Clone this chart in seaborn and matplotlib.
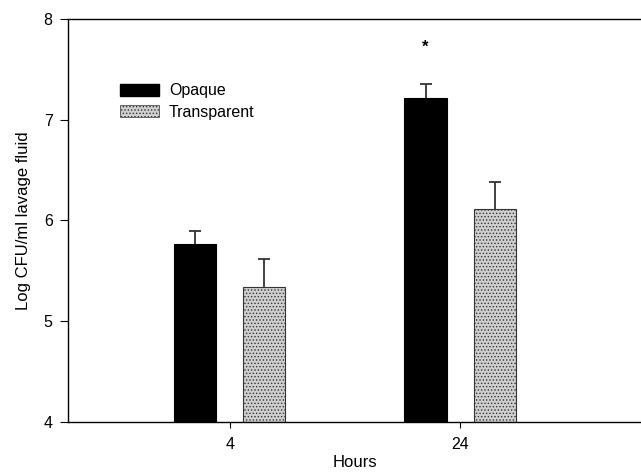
import matplotlib
matplotlib.use("Agg")
import matplotlib.pyplot as plt
import matplotlib.patches as mpatches
import seaborn as sns
import pandas as pd

# Bacterial counts in lavage fluid by colony phenotype
hours = ["4", "24"]
phenotypes = ["Opaque", "Transparent"]
opaque_mean = [5.77, 7.21]
opaque_err = [0.13, 0.14]
transparent_mean = [5.34, 6.11]
transparent_err = [0.28, 0.27]
y_ticks = [4, 5, 6, 7, 8]

df = pd.DataFrame({
    "Hours": hours + hours,
    "Phenotype": [phenotypes[0]] * 2 + [phenotypes[1]] * 2,
    "value": opaque_mean + transparent_mean,
})
errs = {phenotypes[0]: opaque_err, phenotypes[1]: transparent_err}

sns.set_style("ticks")
plt.rcParams["font.family"] = ["Liberation Sans", "DejaVu Sans"]
plt.rcParams["hatch.linewidth"] = 0.6
for key in ["text.color", "axes.labelcolor", "xtick.color", "ytick.color",
            "xtick.labelcolor", "ytick.labelcolor"]:
    plt.rcParams[key] = "black"

fig = plt.figure(figsize=(6.41, 4.72), dpi=100)
ax = fig.add_axes([0.106, 0.106, 0.894, 0.854])

stipple_face = "#cfcfcf"
sns.barplot(data=df, x="Hours", y="value", hue="Phenotype", order=hours,
            hue_order=phenotypes, palette=["black", stipple_face],
            width=0.6, gap=0.39, errorbar=None, legend=False,
            edgecolor="black", linewidth=0.8, ax=ax)

# stippled fill for the transparent bars
for bar in ax.containers[1]:
    bar.set_hatch(".....")
    bar.set_edgecolor("#333333")

# upward-only error bars
for cont, name in zip(list(ax.containers), phenotypes):
    xs = [b.get_x() + b.get_width() / 2 for b in cont]
    ys = [b.get_height() for b in cont]
    _, caps, _ = ax.errorbar(xs, ys, yerr=[[0] * len(xs), errs[name]],
                             fmt="none", ecolor="#333333", elinewidth=1.3,
                             capsize=4.5, capthick=1.3, zorder=5)
    caps[0].set_visible(False)

# significance marker above the 24 h opaque bar
b = ax.containers[0][1]
ax.text(b.get_x() + b.get_width() / 2, 7.72, "*", ha="center", va="center",
        fontsize=12, fontweight="bold")

ax.set_xlim(-0.703, 1.786)
ax.set_ylim(4, 8)
ax.set_yticks(y_ticks)
ax.set_yticklabels([str(t) for t in y_ticks])

for side in ["left", "bottom", "top"]:
    ax.spines[side].set_visible(True)
    ax.spines[side].set_color("black")
    ax.spines[side].set_linewidth(1.0)
ax.spines["right"].set_visible(False)

ax.tick_params(axis="y", direction="out", length=6, width=0.8, labelsize=11.5, pad=5)
ax.tick_params(axis="x", direction="out", length=4, width=0.8, labelsize=11.5, pad=7)
ax.set_xlabel("Hours", fontsize=12, labelpad=2)
ax.set_ylabel("Log CFU/ml lavage fluid", fontsize=12, labelpad=9)

handles = [
    mpatches.Patch(facecolor="black", edgecolor="black", label=phenotypes[0]),
    mpatches.Patch(facecolor=stipple_face, edgecolor="#333333", hatch=".....",
                   linewidth=0.5, label=phenotypes[1]),
]
ax.legend(handles=handles, loc="upper left", bbox_to_anchor=(0.09, 0.84),
          frameon=False, fontsize=11.5, handlelength=2.5, handleheight=0.75,
          handletextpad=0.6, labelspacing=0.4, borderpad=0, borderaxespad=0)

fig.savefig("out.png", dpi=100)
